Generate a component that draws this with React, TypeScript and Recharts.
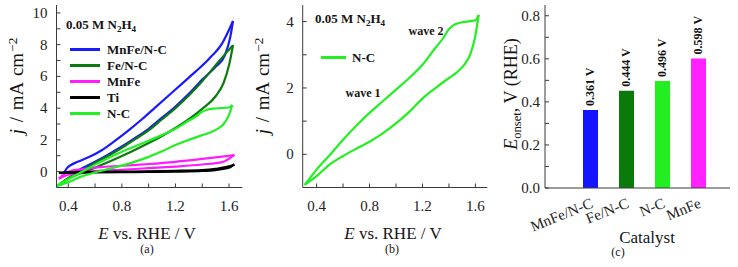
import React from "react";
import { LineChart, Line, XAxis, YAxis, BarChart, Bar, Cell, LabelList } from "recharts";

const FONT = '"Liberation Serif", "Times New Roman", serif';
const INK = "#3a3a3a";
const TICK = 4;

type Pt = { E: number; j: number };
const pts = (rows: number[][]): Pt[] => rows.map(([E, j]) => ({ E, j }));

// CV branches (a) / (b); E in V vs RHE, j in mA cm-2
const mnfeNcFwd = pts([[0.37, -0.05], [0.39, 0.22], [0.42, 0.42], [0.47, 0.62], [0.55, 0.9], [0.65, 1.35], [0.75, 1.95], [0.85, 2.6], [0.95, 3.3], [1.05, 4.05], [1.15, 4.8], [1.25, 5.55], [1.35, 6.3], [1.45, 7.1], [1.55, 8.1], [1.63, 9.49]]);
const mnfeNcRev = pts([[0.37, -0.05], [0.45, 0.0], [0.5, 0.2], [0.6, 0.62], [0.7, 1.08], [0.8, 1.58], [0.9, 2.12], [1.0, 2.7], [1.1, 3.4], [1.2, 4.1], [1.3, 4.9], [1.4, 5.8], [1.5, 6.6], [1.57, 7.35], [1.61, 8.5], [1.63, 9.49]]);
const feNcFwd = pts([[0.33, -0.85], [0.4, -0.4], [0.5, 0.05], [0.6, 0.55], [0.7, 1.0], [0.8, 1.5], [0.9, 2.05], [1.0, 2.6], [1.1, 3.3], [1.2, 4.0], [1.3, 4.8], [1.4, 5.7], [1.5, 6.7], [1.58, 7.5], [1.63, 7.97]]);
const feNcRev = pts([[0.33, -0.85], [0.4, -0.45], [0.5, -0.08], [0.6, 0.25], [0.7, 0.6], [0.8, 0.98], [0.9, 1.38], [1.0, 1.8], [1.1, 2.25], [1.2, 2.75], [1.3, 3.3], [1.4, 3.95], [1.5, 4.75], [1.56, 5.6], [1.6, 6.7], [1.63, 7.97]]);
const mnfeFwd = pts([[0.33, -0.45], [0.36, -0.2], [0.42, 0.05], [0.5, 0.15], [0.6, 0.25], [0.8, 0.37], [1.0, 0.48], [1.2, 0.62], [1.4, 0.8], [1.55, 0.95], [1.64, 1.05]]);
const mnfeRev = pts([[0.33, -0.45], [0.4, -0.2], [0.5, -0.05], [0.6, 0.03], [0.8, 0.12], [1.0, 0.22], [1.2, 0.32], [1.4, 0.45], [1.55, 0.6], [1.64, 1.05]]);
const tiFwd = pts([[0.33, -0.08], [0.5, -0.02], [0.8, 0.0], [1.0, 0.02], [1.2, 0.05], [1.4, 0.1], [1.5, 0.18], [1.6, 0.33], [1.64, 0.45]]);
const tiRev = pts([[0.33, -0.08], [0.5, -0.06], [0.8, -0.04], [1.0, -0.02], [1.2, 0.0], [1.4, 0.04], [1.5, 0.1], [1.6, 0.24], [1.64, 0.45]]);
const ncFwd = pts([[0.31, -0.92], [0.4, -0.46], [0.5, -0.02], [0.6, 0.44], [0.7, 0.86], [0.8, 1.25], [0.9, 1.6], [1.0, 1.95], [1.1, 2.3], [1.2, 2.7], [1.3, 3.22], [1.36, 3.52], [1.39, 3.72], [1.43, 3.88], [1.5, 3.98], [1.6, 4.04], [1.625, 4.2]]);
const ncRev = pts([[0.31, -0.92], [0.4, -0.66], [0.5, -0.3], [0.6, -0.05], [0.7, 0.17], [0.8, 0.38], [0.9, 0.63], [1.0, 0.93], [1.1, 1.28], [1.2, 1.68], [1.3, 2.0], [1.4, 2.3], [1.46, 2.47], [1.52, 2.72], [1.56, 3.0], [1.595, 3.48], [1.625, 4.2]]);

const seriesA = [
  { name: "MnFe/N-C", color: "#1a1aff", fwd: mnfeNcFwd, rev: mnfeNcRev },
  { name: "Fe/N-C", color: "#0c7a0c", fwd: feNcFwd, rev: feNcRev },
  { name: "MnFe", color: "#ff1aff", fwd: mnfeFwd, rev: mnfeRev },
  { name: "Ti", color: "#000000", fwd: tiFwd, rev: tiRev },
  { name: "N-C", color: "#22f022", fwd: ncFwd, rev: ncRev },
];

const eTicks = [0.4, 0.6, 0.8, 1.0, 1.2, 1.4, 1.6];
const eLabels = [0.4, 0.8, 1.2, 1.6];
const jTicksA = [0, 1, 2, 3, 4, 5, 6, 7, 8, 9, 10];
const jLabelsA = [0, 2, 4, 6, 8, 10];
const jTicksB = [0, 1, 2, 3, 4];
const jLabelsB = [0, 2, 4];

// panel (c)
const catalysts = ["MnFe/N-C", "Fe/N-C", "N-C", "MnFe"];
const onsetValues = [0.362, 0.452, 0.497, 0.602];
const onsetText = ["0.361 V", "0.444 V", "0.496 V", "0.598 V"];
const barColors = ["#1414ff", "#0a7a0a", "#22ee22", "#ff22ff"];
const onsetTicks = [0, 0.1, 0.2, 0.3, 0.4, 0.5, 0.6, 0.7, 0.8];
const onsetLabels = [0, 0.2, 0.4, 0.6, 0.8];

const barData = catalysts.map((name, i) => ({ name, value: onsetValues[i], label: onsetText[i] }));

const isIn = (v: number, list: number[]) => list.some((m) => Math.abs(m - v) < 1e-9);
const f1 = (v: number) => v.toFixed(1);
const f0 = (v: number) => String(v);
const serif = { fontFamily: FONT };

const BottomTick = (p: any) => (
  <g>
    <line x1={p.x} x2={p.x} y1={p.y} y2={p.y - TICK} stroke={INK} />
    {isIn(p.payload.value, p.labels) && (
      <text x={p.x} y={p.y + 23} textAnchor="middle" fontSize={15} style={serif} fill="#222">
        {p.fmt(p.payload.value)}
      </text>
    )}
  </g>
);
const TopTick = (p: any) => <line x1={p.x} x2={p.x} y1={p.y} y2={p.y + TICK} stroke={INK} />;
const LeftTick = (p: any) => (
  <g>
    <line x1={p.x} x2={p.x + TICK} y1={p.y} y2={p.y} stroke={INK} />
    {isIn(p.payload.value, p.labels) && (
      <text x={p.x - p.gap} y={p.y + 5} textAnchor="end" fontSize={15} style={serif} fill="#222">
        {p.fmt(p.payload.value)}
      </text>
    )}
  </g>
);
const RightTick = (p: any) => <line x1={p.x} x2={p.x - TICK} y1={p.y} y2={p.y} stroke={INK} />;

const CatTick = (p: any) => {
  const tx = p.x + 4;
  const ty = p.y + 19;
  return (
    <text x={tx} y={ty} textAnchor="end" transform={`rotate(-22 ${tx} ${ty})`} fontSize={15} style={serif} fill="#222">
      {p.payload.value}
    </text>
  );
};

const OnsetLabel = (p: any) => {
  const x = p.x + p.width / 2 + 4;
  const y = p.y - 4;
  return (
    <text x={x} y={y} transform={`rotate(-90 ${x} ${y})`} fontSize={12} fontWeight="bold" style={serif} fill="#111">
      {p.value}
    </text>
  );
};

const Txt = ({ x, y, rot, size = 17, bold, left, spacing, children }: any) => (
  <div
    style={{
      position: "absolute",
      left: x,
      top: y,
      transform: `translate(${left ? "0" : "-50%"},-50%)${rot ? ` rotate(${rot}deg)` : ""}`,
      fontFamily: FONT,
      fontSize: size,
      fontWeight: bold ? "bold" : "normal",
      whiteSpace: "nowrap",
      lineHeight: 1,
      wordSpacing: spacing || 0,
      color: "#151515",
    }}
  >
    {children}
  </div>
);

const Sub = ({ children }: any) => (
  <span style={{ fontSize: "0.7em", position: "relative", top: "0.3em" }}>{children}</span>
);
const Sup = ({ children }: any) => (
  <span style={{ fontSize: "0.7em", position: "relative", top: "-0.45em", marginLeft: 1 }}>{children}</span>
);

const N2H4 = () => (
  <>
    0.05 M N<Sub>2</Sub>H<Sub>4</Sub>
  </>
);
const JTitle = () => (
  <>
    <i>j</i> / mA cm<Sup>−2</Sup>
  </>
);
const ETitle = () => (
  <>
    <i>E</i> vs. RHE / V
  </>
);

const CvAxes = ({ domainX, domainY, ticksY, labelsY, gap }: any) => [
  <XAxis key="xb" xAxisId="b" dataKey="E" type="number" domain={domainX} allowDataOverflow ticks={eTicks} interval={0}
    tickSize={0} tickMargin={0} height={25} axisLine={{ stroke: INK }} tickLine={false}
    tick={(p: any) => <BottomTick {...p} labels={eLabels} fmt={f1} />} />,
  <XAxis key="xt" xAxisId="t" orientation="top" dataKey="E" type="number" domain={domainX} allowDataOverflow ticks={eTicks}
    interval={0} tickSize={0} tickMargin={0} height={0} axisLine={{ stroke: INK }} tickLine={false}
    tick={(p: any) => <TopTick {...p} />} />,
  <YAxis key="yl" yAxisId="l" type="number" domain={domainY} allowDataOverflow ticks={ticksY} interval={0}
    tickSize={0} tickMargin={0} width={40} axisLine={{ stroke: INK }} tickLine={false}
    tick={(p: any) => <LeftTick {...p} labels={labelsY} fmt={f0} gap={gap} />} />,
  <YAxis key="yr" yAxisId="r" orientation="right" type="number" domain={domainY} allowDataOverflow ticks={ticksY}
    interval={0} tickSize={0} tickMargin={0} width={0} axisLine={{ stroke: INK }} tickLine={false}
    tick={(p: any) => <RightTick {...p} />} />,
];

const branchLines = (s: any) =>
  [s.fwd, s.rev].map((d: Pt[], k: number) => (
    <Line key={`${s.name}-${k}`} xAxisId="b" yAxisId="l" data={d} dataKey="j" type="monotone" stroke={s.color}
      strokeWidth={2.2} dot={false} activeDot={false} isAnimationActive={false} />
  ));

const App = () => (
  <div style={{ position: "absolute", left: 0, top: 0, width: 738, height: 267, background: "#fff", overflow: "hidden", fontFamily: FONT }}>
    <div style={{ position: "absolute", left: 0, top: 0 }}>
      <LineChart width={250} height={230} margin={{ top: 5, right: 7.6, bottom: 17.5, left: 16.5 }}>
        {CvAxes({ domainX: [0.312, 1.7], domainY: [-1, 10.5], ticksY: jTicksA, labelsY: jLabelsA, gap: 9 })}
        {seriesA.flatMap(branchLines)}
      </LineChart>
    </div>
    <div style={{ position: "absolute", left: 250, top: 0 }}>
      <LineChart width={245} height={230} margin={{ top: 5, right: 7.7, bottom: 17.5, left: 12.7 }}>
        {CvAxes({ domainX: [0.295, 1.69], domainY: [-1, 4.5], ticksY: jTicksB, labelsY: jLabelsB, gap: 9 })}
        {branchLines(seriesA[4])}
      </LineChart>
    </div>
    <div style={{ position: "absolute", left: 490, top: 0 }}>
      <BarChart width={248} height={267} data={barData} margin={{ top: 5, right: 8, bottom: 39, left: 10 }}>
        <XAxis xAxisId="b" dataKey="name" padding={{ left: 27, right: 14 }} height={40} tickSize={0} tickMargin={0}
          tickLine={false} axisLine={{ stroke: INK }} interval={0} tick={(p: any) => <CatTick {...p} />} />
        <XAxis xAxisId="t" dataKey="name" orientation="top" padding={{ left: 27, right: 14 }} height={0}
          tickLine={false} axisLine={{ stroke: INK }} tick={false} />
        <YAxis yAxisId="l" type="number" domain={[0, 0.85]} allowDataOverflow ticks={onsetTicks} interval={0}
          tickSize={0} tickMargin={0} width={45} axisLine={{ stroke: INK }} tickLine={false}
          tick={(p: any) => <LeftTick {...p} labels={onsetLabels} fmt={f1} gap={5} />} />
        <YAxis yAxisId="r" orientation="right" type="number" domain={[0, 0.85]} allowDataOverflow ticks={onsetTicks}
          interval={0} tickSize={0} tickMargin={0} width={0} axisLine={{ stroke: INK }} tickLine={false}
          tick={(p: any) => <RightTick {...p} />} />
        <Bar xAxisId="b" yAxisId="l" dataKey="value" barSize={15} isAnimationActive={false}>
          {barData.map((d, i) => (
            <Cell key={d.name} fill={barColors[i]} />
          ))}
          <LabelList dataKey="label" content={(p: any) => <OnsetLabel {...p} />} />
        </Bar>
      </BarChart>
    </div>

    {/* panel (a) texts */}
    <Txt x={66} y={25} size={13} bold left><N2H4 /></Txt>
    {seriesA.map((s, i) => (
      <React.Fragment key={s.name}>
        <div style={{ position: "absolute", left: 70, top: 49 + i * 16 - 1.5, width: 30, height: 3, background: s.color }} />
        <Txt x={107} y={49 + i * 16} size={13} bold left>{s.name}</Txt>
      </React.Fragment>
    ))}
    <Txt x={147} y={233}><ETitle /></Txt>
    <Txt x={16} y={86} rot={-90} size={19} spacing={2}><JTitle /></Txt>
    <Txt x={147} y={249} size={12}>(a)</Txt>

    {/* panel (b) texts */}
    <Txt x={315} y={19} size={13} bold left><N2H4 /></Txt>
    <div style={{ position: "absolute", left: 321, top: 55.5, width: 25, height: 3, background: seriesA[4].color }} />
    <Txt x={352} y={57} size={13} bold left>N-C</Txt>
    <Txt x={363} y={93} size={12} bold>wave 1</Txt>
    <Txt x={426} y={31} size={12} bold>wave 2</Txt>
    <Txt x={393} y={233}><ETitle /></Txt>
    <Txt x={262} y={86} rot={-90} size={19} spacing={2}><JTitle /></Txt>
    <Txt x={392} y={249} size={12}>(b)</Txt>

    {/* panel (c) texts */}
    <Txt x={511} y={94} rot={-90} size={18}>
      <i>E</i><Sub>onset</Sub>, V (RHE)
    </Txt>
    <Txt x={647} y={237}>Catalyst</Txt>
    <Txt x={618} y={252} size={12}>(c)</Txt>
  </div>
);

export default App;
